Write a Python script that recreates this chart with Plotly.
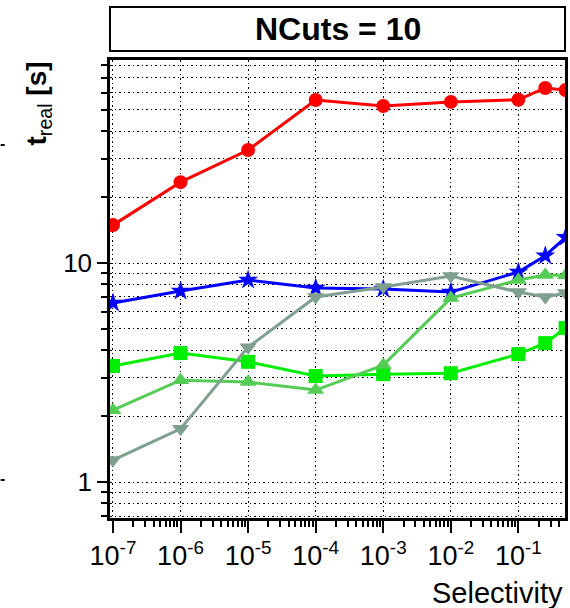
import plotly.graph_objects as go

selectivity = [1e-7, 1e-6, 1e-5, 1e-4, 1e-3, 1e-2, 1e-1, 0.25, 0.5]
red_vals = [14.9, 23.4, 32.8, 55.5, 52.1, 54.4, 55.7, 63.0, 61.6]
blue_vals = [6.57, 7.45, 8.36, 7.69, 7.61, 7.37, 9.1, 10.8, 13.1]
lime_vals = [3.39, 3.88, 3.54, 3.05, 3.11, 3.14, 3.84, 4.31, 5.05]
lgreen_vals = [2.13, 2.92, 2.86, 2.63, 3.42, 6.92, 8.36, 8.82, 8.8]
gray_vals = [1.26, 1.75, 4.13, 7.0, 7.77, 8.72, 7.37, 7.0, 7.3]

x_tickvals = [1e-7, 1e-6, 1e-5, 1e-4, 1e-3, 1e-2, 1e-1]
x_ticktext = ["10<sup>-7</sup>", "10<sup>-6</sup>", "10<sup>-5</sup>", "10<sup>-4</sup>",
              "10<sup>-3</sup>", "10<sup>-2</sup>", "10<sup>-1</sup>"]
y_tickvals = [1, 10]
y_ticktext = ["1", "10"]

# minor tick positions (2..9 times each decade)
x_minor = [m * d for d in [1e-7, 1e-6, 1e-5, 1e-4, 1e-3, 1e-2, 1e-1] for m in range(2, 10)]
y_minor = [m * d for d in [0.1, 1, 10] for m in range(2, 10)]

series = [
    (red_vals, "#ff0000", "circle", 14),
    (blue_vals, "#0000ff", "star", 15),
    (lime_vals, "#00ee00", "square", 14),
    (lgreen_vals, "#55cc55", "triangle-up", 15),
    (gray_vals, "#7f9f8f", "triangle-down", 15),
]

fig = go.Figure()
for vals, col, sym, sz in series:
    fig.add_trace(go.Scatter(
        x=selectivity, y=vals, mode="lines+markers",
        line=dict(color=col, width=3),
        marker=dict(color=col, symbol=sym, size=sz, line=dict(width=0)),
        showlegend=False,
    ))

W, H = 570, 608
L, R, T, B = 110, 568, 60, 518
PH = B - T

def py(p):
    return (B - p) / PH

def px(p):
    return (p - L) / (R - L)

GRID_DASH = "1.5px,3px"

fig.update_layout(
    width=W, height=H,
    margin=dict(l=L, r=W - R, t=T, b=H - B),
    plot_bgcolor="white", paper_bgcolor="white",
    font=dict(family="Liberation Sans, Arial, sans-serif", color="black"),
    xaxis=dict(
        type="log", range=[-7.044, -0.31],
        tickmode="array", tickvals=x_tickvals, ticktext=x_ticktext,
        tickfont=dict(size=27),
        ticks="outside", ticklen=12, tickwidth=2, tickcolor="black",
        showline=True, linecolor="black", linewidth=2.5, mirror=True,
        showgrid=True, gridcolor="black", griddash=GRID_DASH, gridwidth=1.2,
        minor=dict(tickmode="array", tickvals=x_minor, ticks="outside", ticklen=6,
                   tickwidth=1.5, tickcolor="black", showgrid=False),
        zeroline=False,
    ),
    yaxis=dict(
        type="log", range=[-0.164, 1.927],
        tickmode="array", tickvals=y_tickvals, ticktext=y_ticktext,
        tickfont=dict(size=26),
        ticks="outside", ticklen=10, tickwidth=2, tickcolor="black",
        showline=True, linecolor="black", linewidth=2.5, mirror=True,
        showgrid=True, gridcolor="black", griddash=GRID_DASH, gridwidth=1.2,
        minor=dict(tickmode="array", tickvals=y_minor, ticks="outside", ticklen=6,
                   tickwidth=1.5, tickcolor="black",
                   showgrid=True, gridcolor="black", griddash=GRID_DASH, gridwidth=1.2),
        zeroline=False,
    ),
    shapes=[
        dict(type="rect", xref="paper", yref="paper",
             x0=0, x1=1, y0=py(51), y1=py(7),
             line=dict(color="black", width=2), fillcolor="white"),
        dict(type="line", xref="paper", yref="paper",
             x0=px(0), x1=px(4), y0=py(145), y1=py(145),
             line=dict(color="black", width=2)),
        dict(type="line", xref="paper", yref="paper",
             x0=px(0), x1=px(4), y0=py(480), y1=py(480),
             line=dict(color="black", width=2)),
    ],
    annotations=[
        dict(text="<b>NCuts = 10</b>", xref="paper", yref="paper",
             x=0.5, y=py(29), xanchor="center", yanchor="middle",
             showarrow=False, font=dict(size=32)),
        dict(text="<b>t</b><sub>real</sub><b> [s]</b>", xref="paper", yref="paper",
             x=px(38), y=py(103), xanchor="center", yanchor="middle",
             textangle=-90, showarrow=False, font=dict(size=28)),
        dict(text="Selectivity", xref="paper", yref="paper",
             x=px(568), y=py(593), xanchor="right", yanchor="middle",
             showarrow=False, font=dict(size=29)),
    ],
)

fig.write_html("out.html", config={"displayModeBar": False},
               post_script="document.body.style.margin='0px';document.body.style.overflow='hidden';")
